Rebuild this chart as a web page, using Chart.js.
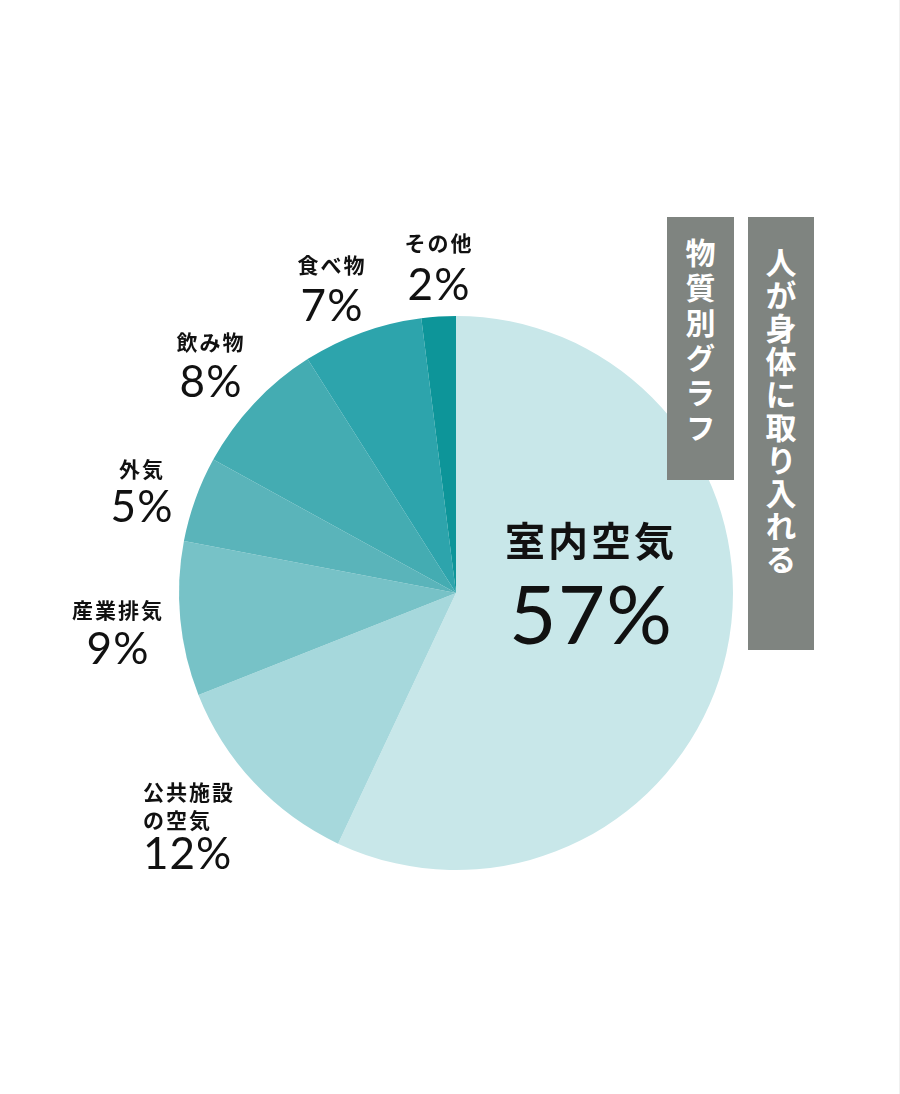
<!DOCTYPE html>
<html>
<head>
<meta charset="utf-8">
<script src="https://cdn.jsdelivr.net/npm/chart.js@4"></script>
<style>
  html, body { margin: 0; padding: 0; background: #fff; }
  #wrap { position: relative; width: 900px; height: 1094px; border-right: 1px solid #f0f0f0; box-sizing: border-box; }
  canvas { position: absolute; left: 0; top: 0; }
  .tag {
    position: absolute; background: #7f8480; color: #fff;
    writing-mode: vertical-rl; font-family: "Noto Sans CJK JP", sans-serif;
    font-weight: 700; display: flex; align-items: center; justify-content: flex-start;
    box-sizing: border-box; line-height: 1;
  }
  #tag1 { left: 667px; top: 217px; width: 67px; height: 263px; font-size: 30px; letter-spacing: 5px; padding-top: 21px; }
  #tag2 { left: 748px; top: 217px; width: 66px; height: 433px; font-size: 31px; letter-spacing: 2px; padding-top: 30px; }
</style>
</head>
<body>
<div id="wrap">
  <canvas id="pie" width="900" height="1094"></canvas>
  <div class="tag" id="tag1">物質別グラフ</div>
  <div class="tag" id="tag2">人が身体に取り入れる</div>
</div>
<script>
let names = ["室内空気", "公共施設の空気", "産業排気", "外気", "飲み物", "食べ物", "その他"];
let shares = [57, 12, 9, 5, 8, 7, 2];
let sliceColors = ["#c8e7e9", "#a6d8dc", "#77c2c7", "#5ab4ba", "#44acb2", "#2da4ac", "#0d9599"];

// where each label sits (name line(s), percent line)
let labelSpots = [
    {x: 591, y: 541, py: 618, size: 40, psize: 82, align: "center"},
    {x: 143, y: 792, py: 855, size: 21, psize: 44, align: "left", lines: ["公共施設", "の空気"]},
    {x: 118, y: 610, py: 650, size: 21, psize: 44, align: "center"},
    {x: 142, y: 469, py: 508, size: 21, psize: 44, align: "center"},
    {x: 211, y: 342, py: 383, size: 21, psize: 44, align: "center"},
    {x: 332, y: 265, py: 307, size: 21, psize: 44, align: "center"},
    {x: 439, y: 243, py: 286, size: 21, psize: 44, align: "center"}
];

let labelPlugin = {
    id: "sliceLabels",
    afterDraw(chart){
        let ctx = chart.ctx;
        ctx.save();
        ctx.fillStyle = "#111";
        ctx.textBaseline = "middle";
        for(let i = 0; i < names.length; i++){
            let s = labelSpots[i];
            ctx.textAlign = s.align;
            ctx.font = "700 " + s.size + "px 'Noto Sans CJK JP'";
            ctx.letterSpacing = (s.size > 30 ? 3 : 2) + "px";
            let lines = s.lines || [names[i]];
            for(let j = 0; j < lines.length; j++){
                ctx.fillText(lines[j], s.x, s.y + j * 28);
            }
            ctx.font = "400 " + s.psize + "px Lato";
            ctx.letterSpacing = "1px";
            ctx.fillText(shares[i] + "%", s.x, s.py);
        }
        ctx.restore();
    }
};

let pieChart = new Chart(document.getElementById("pie"),
    {
        type: "pie",
        data: {
            labels: names,
            datasets: [{
                data: shares,
                backgroundColor: sliceColors,
                borderWidth: 0
            }]
        },
        options: {
            responsive: false,
            animation: false,
            layout: { padding: { left: 179, right: 167, top: 316, bottom: 224 } },
            plugins: {
                legend: { display: false },
                tooltip: { enabled: false }
            }
        },
        plugins: [labelPlugin]
    }
);
</script>
</body>
</html>
